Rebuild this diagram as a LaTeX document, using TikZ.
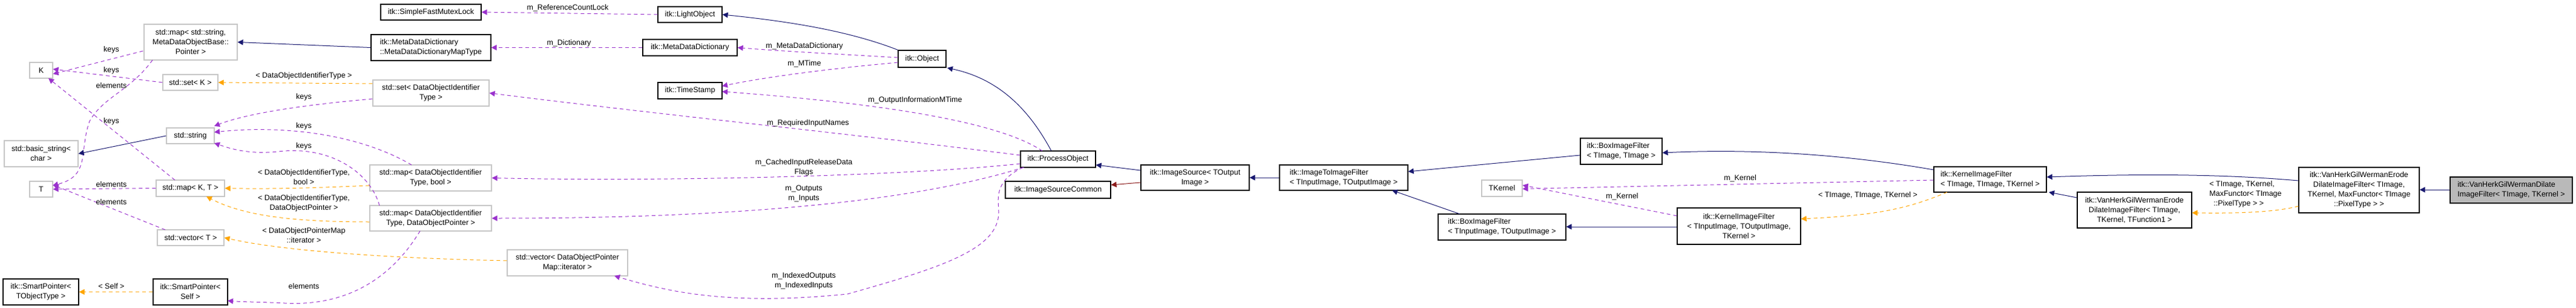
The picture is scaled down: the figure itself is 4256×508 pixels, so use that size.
\documentclass[tikz,border=0pt]{standalone}
\usepackage{fontspec}
\setmainfont{Liberation Sans}
\usetikzlibrary{arrows.meta}
\definecolor{navy}{HTML}{191970}
\definecolor{purp}{HTML}{9A32CD}
\definecolor{orng}{HTML}{FFA500}
\definecolor{dred}{HTML}{8B1A1A}
\newcommand\nd[7]{\node[#6, minimum width={(#4-#2)*1pt}, minimum height={(#5-#3)*1pt}] (#1) at ({(#2+#4)/2},{(#3+#5)/2}) {#7};}
\newcommand\lb[4][center]{\node[lab,align=#1] (#2) at (#3) {#4};}
\begin{document}
\begin{tikzpicture}[x=1pt,y=-1pt,
  base/.style={inner sep=0pt, font=\fontsize{12.5}{16}\selectfont, fill=white},
  box/.style={base, draw=black, line width=1.2pt, align=center},
  lbox/.style={base, draw=black, line width=1.2pt, align=left},
  sbox/.style={base, draw=gray!45, line width=1.2pt, align=center},
  fin/.style={base, draw=black, fill=gray!55, line width=1.2pt, align=left},
  lab/.style={inner sep=0pt, font=\fontsize{12.5}{16}\selectfont},
  tip/.style={-{Triangle[length=9pt,width=9pt]}, line width=1pt},
  inh/.style={tip, draw=navy},
  red/.style={tip, draw=dred},
  mem/.style={tip, draw=purp, dash pattern=on 6pt off 5pt},
  tpl/.style={tip, draw=orng, dash pattern=on 6pt off 5pt}]
\useasboundingbox (0,0) rectangle (4256,508);
% nodes
\nd{K}{49}{103}{87}{129}{sbox}{K}
\nd{mapstr}{238}{40}{392}{99}{sbox}{std::map< std::string,\\ MetaDataObjectBase::\\Pointer >}
\nd{setK}{269}{123}{360}{149}{sbox}{std::set< K >}
\nd{str}{275}{211}{354}{237}{sbox}{std::string}
\nd{bstr}{7}{232}{129}{275}{sbox}{std::basic\_string<\\ char >}
\nd{T}{49}{299}{87}{325}{sbox}{T}
\nd{mapKT}{258}{297}{371}{324}{sbox}{std::map< K, T >}
\nd{vecT}{260}{379}{370}{405}{sbox}{std::vector< T >}
\nd{spT}{5}{460}{130}{503}{box}{itk::SmartPointer<\\ TObjectType >}
\nd{spS}{253}{460}{376}{503}{box}{itk::SmartPointer<\\ Self >}
\nd{setD}{616}{132}{808}{175}{sbox}{std::set< DataObjectIdentifier\\Type >}
\nd{mapDb}{611}{272}{812}{315}{sbox}{std::map< DataObjectIdentifier\\Type, bool >}
\nd{mapDp}{611}{339}{812}{381}{sbox}{std::map< DataObjectIdentifier\\Type, DataObjectPointer >}
\nd{mdmt}{613}{57}{811}{100}{lbox}{itk::MetaDataDictionary\\::MetaDataDictionaryMapType}
\nd{mutex}{629}{7}{795}{33}{box}{itk::SimpleFastMutexLock}
\nd{light}{1087}{11}{1193}{37}{box}{itk::LightObject}
\nd{mdd}{1062}{65}{1218}{92}{box}{itk::MetaDataDictionary}
\nd{ts}{1087}{136}{1193}{163}{box}{itk::TimeStamp}
\nd{obj}{1484}{83}{1563}{111}{box}{itk::Object}
\nd{vecD}{838}{412}{1037}{455}{sbox}{std::vector< DataObjectPointer\\Map::iterator >}
\nd{po}{1686}{249}{1810}{276}{box}{itk::ProcessObject}
\nd{isc}{1661}{299}{1835}{327}{box}{itk::ImageSourceCommon}
\nd{is}{1885}{272}{2064}{314}{box}{itk::ImageSource< TOutput\\Image >}
\nd{itif}{2114}{272}{2326}{314}{lbox}{itk::ImageToImageFilter\\< TInputImage, TOutputImage >}
\nd{boxTT}{2611}{228}{2746}{271}{lbox}{itk::BoxImageFilter\\< TImage, TImage >}
\nd{tk}{2448}{297}{2515}{324}{sbox}{TKernel}
\nd{boxIO}{2376}{353}{2587}{396}{lbox}{itk::BoxImageFilter\\< TInputImage, TOutputImage >}
\nd{kIO}{2771}{343}{2975}{403}{box}{itk::KernelImageFilter\\< TInputImage, TOutputImage,\\TKernel >}
\nd{kTT}{3195}{275}{3381}{317}{lbox}{itk::KernelImageFilter\\< TImage, TImage, TKernel >}
\nd{vhF}{3432}{317}{3621}{376}{box}{itk::VanHerkGilWermanErode\\DilateImageFilter< TImage,\\ TKernel, TFunction1 >}
\nd{vhM}{3798}{276}{3997}{351}{box}{itk::VanHerkGilWermanErode\\DilateImageFilter< TImage,\\ TKernel, MaxFunctor< TImage\\::PixelType > >}
\nd{fin}{4048}{292}{4250}{335}{fin}{itk::VanHerkGilWermanDilate\\ImageFilter< TImage, TKernel >}
% edges
\draw[inh] (mdmt.west) -- (mapstr.east);
\draw[mem] ([xshift=-1pt]mapstr.west |- 0,84) -- ([yshift=-6pt]K.east);
\draw[mem] (252,99) .. controls (215,150) and (170,160) .. (148,200) .. controls (130,250) and (150,290) .. (87,306);
\draw[mem] (setK.west) -- ([yshift=2pt]K.east);
\draw[mem] (289,297) -- (80,129);
\draw[mem] (mapKT.west) -- (T.east);
\draw[mem] (273,379) -- ([yshift=7pt]T.east);
\draw[inh] (str.west) -- (bstr.east);
\draw[tpl] (setD.west |- 0,138) -- (setK.east);
\draw[mem] (setD.west |- 0,163) .. controls (480,175) and (400,190) .. (354,208);
\draw[mem] (680,272) .. controls (600,225) and (480,205) .. (354,218);
\draw[mem] (627,339) .. controls (610,280) and (540,240) .. (460,250) .. controls (410,255) and (380,245) .. (354,236);
\draw[tpl] (mapDb.west |- 0,306) .. controls (520,310) and (450,312) .. (mapKT.east);
\draw[tpl] (mapDp.west |- 0,366) .. controls (480,366) and (400,355) .. (341,324);
\draw[tpl] (vecD.west |- 0,430) .. controls (600,425) and (450,410) .. (vecT.east);
\draw[mem] (694,381) .. controls (640,470) and (560,505) .. (470,500) .. controls (430,498) and (400,498) .. (376,496);
\draw[tpl] (spS.west) -- (spT.east);
\draw[mem] (mdd.west) -- (mdmt.east);
\draw[mem] (light.west) -- (mutex.east);
\draw[inh] (obj.north west) .. controls (1400,50) and (1300,35) .. (light.east);
\draw[mem] (obj.west |- 0,95) .. controls (1400,90) and (1300,85) .. (mdd.east);
\draw[mem] (obj.west |- 0,103) .. controls (1350,115) and (1250,130) .. (1193,142);
\draw[mem] (1722,249) .. controls (1650,200) and (1450,170) .. (1193,151);
\draw[mem] (po.west |- 0,256) .. controls (1400,220) and (1100,190) .. (setD.east);
\draw[mem] (po.west |- 0,270) .. controls (1500,290) and (1100,300) .. (mapDb.east);
\draw[mem] (1692,276) .. controls (1550,320) and (1300,360) .. (mapDp.east);
\draw[mem] (1690,276) .. controls (1640,300) and (1650,330) .. (1650,350) .. controls (1650,410) and (1560,440) .. (1400,485) .. controls (1200,505) and (1100,480) .. (1015,455);
\draw[inh] (1737,249) .. controls (1700,180) and (1650,130) .. (1565,112);
\draw[inh] (is.west |- 0,281) -- (po.east |- 0,272);
\draw[red] (is.west |- 0,301) -- (isc.east |- 0,305);
\draw[inh] (itif.west |- 0,293) -- (is.east |- 0,293);
\draw[inh] (boxTT.west |- 0,256) -- (itif.east |- 0,283);
\draw[inh] (2412,353) -- (2300,314);
\draw[inh] (kIO.west |- 0,374) -- (boxIO.east |- 0,374);
\draw[mem] (kIO.west |- 0,356) -- ([yshift=5pt]tk.east);
\draw[inh] (kTT.west |- 0,280) .. controls (3050,255) and (2900,245) .. (boxTT.east |- 0,252);
\draw[mem] (kTT.west |- 0,297) -- ([yshift=-1pt]tk.east);
\draw[tpl] (3217,317) .. controls (3150,345) and (3100,355) .. (kIO.east |- 0,361);
\draw[inh] (vhF.west |- 0,326) -- (3385,317);
\draw[inh] (vhM.west |- 0,298) .. controls (3650,285) and (3500,288) .. (kTT.east |- 0,292);
\draw[tpl] (vhM.west |- 0,340) .. controls (3760,350) and (3700,352) .. (vhF.east |- 0,351);
\draw[inh] (fin.west |- 0,313) -- (vhM.east |- 0,313);
% labels
\lb{l1}{184,82}{keys}
\lb{l2}{184,141}{elements}
\lb{l3}{184,116}{keys}
\lb{l4}{184,200}{keys}
\lb{l5}{184,304}{elements}
\lb{l6}{184,333}{elements}
\lb{l7}{502,125}{< DataObjectIdentifierType >}
\lb{l8}{502,160}{keys}
\lb{l9}{502,208}{keys}
\lb{l10}{502,241}{keys}
\lb{l11}{502,292}{< DataObjectIdentifierType,\\ bool >}
\lb{l12}{502,335}{< DataObjectIdentifierType,\\ DataObjectPointer >}
\lb{l13}{502,388}{< DataObjectPointerMap\\::iterator >}
\lb{l14}{502,472}{elements}
\lb{l15}{184,472}{< Self >}
\lb{l16}{940,71}{m\_Dictionary}
\lb{l17}{938,13}{m\_ReferenceCountLock}
\lb{l18}{1329,76}{m\_MetaDataDictionary}
\lb{l19}{1329,105}{m\_MTime}
\lb{l20}{1512,165}{m\_OutputInformationMTime}
\lb{l21}{1335,203}{m\_RequiredInputNames}
\lb{l22}{1328,276}{m\_CachedInputReleaseData\\Flags}
\lb{l23}{1328,319}{m\_Outputs\\m\_Inputs}
\lb{l24}{1328,463}{m\_IndexedOutputs\\m\_IndexedInputs}
\lb{l25}{2680,324}{m\_Kernel}
\lb{l26}{2875,294}{m\_Kernel}
\lb{l27}{3086,322}{< TImage, TImage, TKernel >}
\lb[left]{l28}{3710,320}{< TImage, TKernel,\\MaxFunctor< TImage\\ \ \ ::PixelType > >}
\end{tikzpicture}
\end{document}
